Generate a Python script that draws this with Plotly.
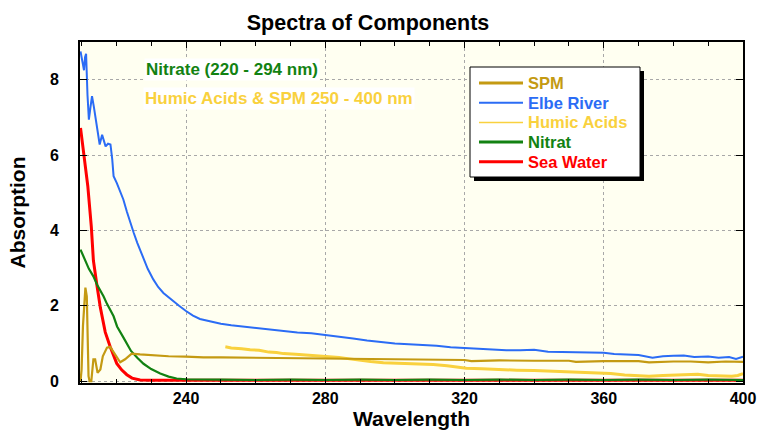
import plotly.graph_objects as go

# ---------------- data ----------------
elbe_wl = [209.7, 210.3, 210.7, 211.0, 211.3, 211.7, 212.1, 212.6, 213.0, 213.5, 214.0, 214.5,
           215.2, 215.9, 216.4, 216.9, 217.6, 218.3, 218.8, 219.2, 220.1, 221.0, 222.0, 223.0,
           224.0, 225.0, 226.0, 227.0, 228.0, 229.0, 230.6, 232.0, 233.5, 235.0, 236.4, 238.0,
           240.0, 242.0, 244.0, 247.0, 250.0, 253.0, 256.0, 258.0, 261.0, 264.0, 268.0, 272.0,
           276.0, 280.0, 284.0, 288.0, 292.0, 296.0, 300.0, 304.0, 308.0, 312.0, 316.0, 320.0,
           324.0, 328.0, 332.0, 336.0, 340.0, 344.0, 348.0, 352.0, 356.0, 360.0, 363.0, 366.0,
           370.0, 374.0, 377.0, 380.0, 383.0, 386.0, 390.0, 393.0, 396.0, 398.0, 400.0]
elbe_abs = [8.75, 8.50, 8.25, 8.60, 8.69, 7.60, 6.94, 7.30, 7.56, 7.30, 7.03, 6.70,
            6.28, 6.54, 6.35, 6.23, 6.30, 6.28, 5.90, 5.44, 5.26, 5.05, 4.82, 4.50,
            4.20, 3.93, 3.67, 3.44, 3.20, 2.98, 2.70, 2.50, 2.34, 2.22, 2.12, 2.00,
            1.86, 1.74, 1.65, 1.58, 1.52, 1.48, 1.45, 1.43, 1.40, 1.36, 1.32, 1.29,
            1.27, 1.23, 1.18, 1.13, 1.08, 1.04, 1.00, 0.98, 0.96, 0.94, 0.90, 0.88,
            0.85, 0.83, 0.82, 0.82, 0.83, 0.78, 0.77, 0.76, 0.74, 0.75, 0.72, 0.70,
            0.69, 0.62, 0.66, 0.67, 0.68, 0.64, 0.65, 0.62, 0.64, 0.59, 0.65]

spm_wl = [209.7, 210.0, 210.4, 211.1, 211.5, 212.0, 212.3, 212.8, 213.4, 213.9, 214.6, 215.4,
          216.1, 217.3, 218.2, 219.7, 221.1, 222.5, 224.4, 226.8, 230.0, 235.0, 240.0, 245.0,
          250.0, 260.0, 270.0, 280.0, 290.0, 300.0, 310.0, 320.0, 322.0, 330.0, 340.0, 350.0,
          352.0, 360.0, 370.0, 373.0, 380.0, 385.0, 390.0, 395.0, 400.0]
spm_abs = [0.00, 0.30, 1.46, 2.48, 2.25, 0.13, 0.00, 0.00, 0.58, 0.58, 0.22, 0.31,
           0.66, 0.89, 0.91, 0.71, 0.50, 0.58, 0.73, 0.71, 0.69, 0.66, 0.65, 0.63,
           0.63, 0.62, 0.61, 0.60, 0.59, 0.58, 0.57, 0.56, 0.53, 0.55, 0.54, 0.54,
           0.51, 0.53, 0.53, 0.50, 0.52, 0.52, 0.50, 0.52, 0.51]

humic_wl = [251.3, 253.0, 256.0, 258.4, 261.0, 263.8, 266.0, 268.0, 271.5, 275.0, 280.0, 284.0,
            287.0, 290.0, 293.0, 296.7, 300.0, 305.0, 311.0, 315.0, 318.0, 320.5, 325.0, 330.0,
            335.0, 340.0, 345.0, 350.0, 355.0, 358.7, 362.0, 366.0, 370.0, 373.0, 377.0, 380.0,
            384.0, 387.0, 390.0, 393.0, 396.8, 398.5, 400.0]
humic_abs = [0.91, 0.88, 0.86, 0.83, 0.82, 0.77, 0.76, 0.73, 0.71, 0.69, 0.66, 0.63,
             0.59, 0.55, 0.52, 0.49, 0.48, 0.46, 0.44, 0.41, 0.37, 0.34, 0.33, 0.30,
             0.29, 0.28, 0.26, 0.24, 0.23, 0.22, 0.20, 0.16, 0.14, 0.13, 0.15, 0.16,
             0.17, 0.18, 0.15, 0.14, 0.13, 0.15, 0.20]

nitrat_wl = [209.7, 211.0, 212.1, 213.4, 214.5, 216.3, 217.3, 219.2, 220.2, 222.0, 224.2, 226.0,
             227.8, 230.0, 232.6, 235.0, 237.3, 240.0, 245.0, 250.0, 260.0, 270.0, 280.0, 290.0,
             300.0, 310.0, 320.0, 330.0, 340.0, 350.0, 360.0, 370.0, 380.0, 390.0, 400.0]
nitrat_abs = [3.49, 3.22, 2.98, 2.78, 2.55, 2.25, 2.05, 1.72, 1.45, 1.16, 0.80, 0.62,
              0.46, 0.32, 0.20, 0.12, 0.07, 0.05, 0.04, 0.04, 0.03, 0.04, 0.03, 0.04,
              0.03, 0.04, 0.03, 0.04, 0.03, 0.04, 0.03, 0.04, 0.03, 0.04, 0.03]

sea_wl = [209.7, 210.7, 211.8, 212.8, 213.4, 214.4, 215.4, 216.8, 218.2, 220.1, 221.5, 223.0,
          224.5, 226.8, 230.0, 240.0, 250.0, 260.0, 270.0, 280.0, 290.0, 300.0, 310.0, 320.0,
          330.0, 340.0, 350.0, 360.0, 370.0, 380.0, 390.0, 400.0]
sea_abs = [6.72, 5.97, 5.17, 4.10, 3.20, 2.55, 1.95, 1.30, 0.92, 0.47, 0.30, 0.17,
           0.08, 0.03, 0.02, 0.02, 0.02, 0.02, 0.03, 0.02, 0.03, 0.02, 0.03, 0.02,
           0.03, 0.02, 0.03, 0.02, 0.03, 0.02, 0.03, 0.02]

x_ticks = [240, 280, 320, 360, 400]
y_ticks = [0, 2, 4, 6, 8]

legend_names = ["SPM", "Elbe River", "Humic Acids", "Nitrat", "Sea Water"]

# ---------------- styling ----------------
C_SPM = "#C49A12"
C_ELBE = "#2B6CF5"
C_HUMIC = "#F9D13E"
C_NIT = "#128212"
C_SEA = "#FF0000"
FONT = "Liberation Sans, Arial, sans-serif"

legend_colors = [C_SPM, C_ELBE, C_HUMIC, C_NIT, C_SEA]
legend_widths = [3, 2, 1.5, 3, 3]

fig = go.Figure()
fig.add_trace(go.Scatter(x=sea_wl, y=sea_abs, mode="lines", name="Sea Water",
                         line=dict(color=C_SEA, width=3)))
fig.add_trace(go.Scatter(x=nitrat_wl, y=nitrat_abs, mode="lines", name="Nitrat",
                         line=dict(color=C_NIT, width=2.2)))
fig.add_trace(go.Scatter(x=humic_wl, y=humic_abs, mode="lines", name="Humic Acids",
                         line=dict(color=C_HUMIC, width=3)))
fig.add_trace(go.Scatter(x=spm_wl, y=spm_abs, mode="lines", name="SPM",
                         line=dict(color=C_SPM, width=2.2)))
fig.add_trace(go.Scatter(x=elbe_wl, y=elbe_abs, mode="lines", name="Elbe River",
                         line=dict(color=C_ELBE, width=2)))

# page pixel geometry of the reference (body margin removed by post_script below)
OFF = 0
W, H = 757 - OFF, 432 - OFF
L, R, T, B = 80 - OFF, 14, 42 - OFF, 49
pw, ph = W - L - R, H - T - B


def px2x(p):
    return (p - OFF - L) / pw


def px2y(p):
    return (H - B - (p - OFF)) / ph


fig.update_layout(
    width=W, height=H,
    margin=dict(l=L, r=R, t=T, b=B, pad=0),
    paper_bgcolor="white",
    plot_bgcolor="#FFFFF1",
    font=dict(family=FONT, color="black", size=16),
    title=dict(text="<b>Spectra of Components</b>", x=(368 - OFF) / W, xref="container",
               xanchor="center", y=1 - (22 - OFF) / H, yref="container", yanchor="middle",
               font=dict(size=21.5, family=FONT, color="black")),
    showlegend=False,
    xaxis=dict(range=[209.55, 400.0], tickvals=x_ticks, ticks="inside", ticklen=6,
               tickcolor="black", tickwidth=1, showline=True, linecolor="black", linewidth=2,
               mirror="ticks", showgrid=True, gridcolor="#A8A8A8", griddash="dot", gridwidth=1,
               zeroline=False, automargin=False, ticklabeloverflow="allow",
               tickfont=dict(size=16, family=FONT, color="black", weight="bold"),
               ticklabelstandoff=0,
               minor=dict(dtick=10, tick0=200, ticks="inside", ticklen=4, tickcolor="black",
                          showgrid=False),
               title=dict(text="<b>Wavelength</b>", font=dict(size=21, family=FONT), standoff=4)),
    yaxis=dict(range=[-0.05, 9.0], tickvals=y_ticks, ticks="inside", ticklen=7,
               tickcolor="black", tickwidth=1, showline=True, linecolor="black", linewidth=2,
               mirror="ticks", showgrid=True, gridcolor="#A8A8A8", griddash="dot", gridwidth=1,
               zeroline=False, automargin=False,
               tickfont=dict(size=16, family=FONT, color="black", weight="bold"),
               ticklabelstandoff=16,
               title=dict(text="<b>Absorption</b>", font=dict(size=21, family=FONT), standoff=19)),
)

# ---------------- legend box (drawn manually, with drop shadow) ----------------
LX0, LX1, LY0, LY1 = 470, 640, 67, 177
fig.add_shape(type="rect", xref="paper", yref="paper", layer="above",
              x0=px2x(LX0 + 4), x1=px2x(LX1 + 4), y0=px2y(LY1 + 4), y1=px2y(LY0 + 4),
              fillcolor="black", line=dict(width=0))
fig.add_shape(type="rect", xref="paper", yref="paper", layer="above",
              x0=px2x(LX0), x1=px2x(LX1), y0=px2y(LY1), y1=px2y(LY0),
              fillcolor="white", line=dict(color="black", width=1))
for i, (nm, col, lw) in enumerate(zip(legend_names, legend_colors, legend_widths)):
    yc = 83 + i * 19.7
    fig.add_shape(type="line", xref="paper", yref="paper", layer="above",
                  x0=px2x(479), x1=px2x(523), y0=px2y(yc), y1=px2y(yc),
                  line=dict(color=col, width=lw))
    fig.add_annotation(text="<b>%s</b>" % nm, xref="paper", yref="paper",
                       x=px2x(526), y=px2y(yc), xanchor="left", yanchor="middle",
                       showarrow=False, font=dict(size=16.5, family=FONT, color=col))

fig.add_annotation(text="<b>Nitrate (220 - 294 nm)</b>", xref="paper", yref="paper",
                   x=px2x(144), y=px2y(69), xanchor="left", yanchor="middle", showarrow=False,
                   bgcolor="white", borderpad=1,
                   font=dict(size=17, family=FONT, color=C_NIT))
fig.add_annotation(text="<b>Humic Acids & SPM 250 - 400 nm</b>", xref="paper", yref="paper",
                   x=px2x(143), y=px2y(99), xanchor="left", yanchor="middle", showarrow=False,
                   bgcolor="white", borderpad=1,
                   font=dict(size=17, family=FONT, color=C_HUMIC))

fig.write_html("out.html",
               config={"displayModeBar": False},
               post_script="document.documentElement.style.margin='0';"
                           "document.body.style.margin='0';"
                           "document.body.style.overflow='hidden';")
